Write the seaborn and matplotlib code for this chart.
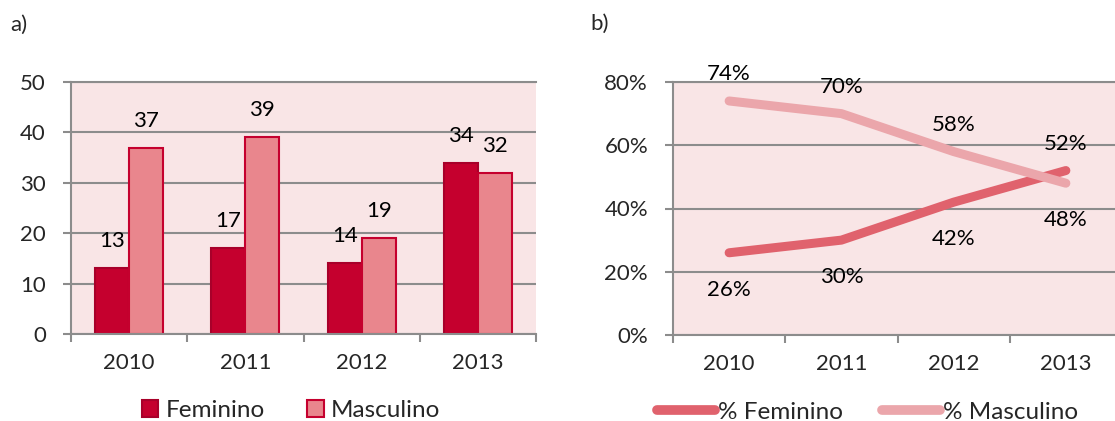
import matplotlib
matplotlib.use("Agg")
import matplotlib.pyplot as plt
import seaborn as sns
import pandas as pd
from matplotlib.patches import Patch
from matplotlib.lines import Line2D

years = ["2010", "2011", "2012", "2013"]
feminino = [13, 17, 14, 34]
masculino = [37, 39, 19, 32]
pct_feminino = [26, 30, 42, 52]
pct_masculino = [74, 70, 58, 48]
bar_series = ["Feminino", "Masculino"]
line_series = ["% Feminino", "% Masculino"]
bar_yticks = [0, 10, 20, 30, 40, 50]
line_yticks = [0, 20, 40, 60, 80]

sns.set_theme(style="white")
plt.rcParams["font.family"] = ["Lato", "DejaVu Sans"]
FS = 16
LFS = 17.5

BG = "#F9E5E6"
GRID = "#8C8C8C"
C_FEM = "#C5002E"
C_FEM_EDGE = "#A8002A"
C_MAS = "#E9868D"
C_MAS_EDGE = "#C5002E"
L_FEM = "#E0626D"
L_MAS = "#EBA6AB"

W, H = 1115, 421
fig = plt.figure(figsize=(W / 100, H / 100), dpi=100)

def rect(x0, x1, ytop, ybot):
    return [x0 / W, (H - ybot) / H, (x1 - x0) / W, (ybot - ytop) / H]

ax1 = fig.add_axes(rect(71, 536, 82, 334))
ax2 = fig.add_axes(rect(673, 1122, 82, 335))

def style_axes(ax, yticks):
    ax.set_facecolor(BG)
    ax.spines["right"].set_visible(False)
    for s in ["left", "bottom", "top"]:
        ax.spines[s].set_color(GRID)
        ax.spines[s].set_linewidth(1.5)
    ax.set_yticks(yticks)
    ax.yaxis.grid(True, color=GRID, lw=1.5)
    ax.set_axisbelow(True)
    ax.tick_params(axis="y", which="major", direction="out", length=6, width=1.5,
                   color=GRID, pad=12, labelsize=FS, left=True)
    ax.set_xlim(-0.5, 3.5)
    ax.set_xticks([0, 1, 2, 3])
    ax.set_xticklabels(years)
    ax.set_xticks([-0.5, 0.5, 1.5, 2.5, 3.5], minor=True)
    ax.tick_params(axis="x", which="major", length=0, pad=14, labelsize=FS)
    ax.tick_params(axis="x", which="minor", direction="out", length=6, width=1.5,
                   color=GRID, bottom=True)
    ax.set_xlabel("")
    ax.set_ylabel("")

# ---- a) bar chart ----
df_bar = pd.DataFrame({
    "Ano": years * 2,
    "Valor": feminino + masculino,
    "Sexo": [bar_series[0]] * 4 + [bar_series[1]] * 4,
})
sns.barplot(data=df_bar, x="Ano", y="Valor", hue="Sexo", ax=ax1,
            palette=[C_FEM, C_MAS], width=0.585, gap=0, legend=False,
            saturation=1, errorbar=None)
edges = [C_FEM_EDGE, C_MAS_EDGE]
for cont, ec in zip(ax1.containers, edges):
    for p in cont:
        p.set_edgecolor(ec)
        p.set_linewidth(1.5)
ax1.set_ylim(0, 50)
style_axes(ax1, bar_yticks)
for cont, vals in zip(ax1.containers, [feminino, masculino]):
    for p, v in zip(cont, vals):
        ax1.annotate(str(v), (p.get_x() + p.get_width() / 2, p.get_height()),
                     xytext=(0, 27), textcoords="offset pixels",
                     ha="center", va="center", fontsize=FS, color="black")

ax1.legend(handles=[Patch(facecolor=C_FEM, edgecolor=C_FEM_EDGE, lw=1.5),
                    Patch(facecolor=C_MAS, edgecolor=C_MAS_EDGE, lw=1.5)],
           labels=bar_series, loc="center", bbox_to_anchor=(0.473, -0.305),
           ncol=2, frameon=False, fontsize=LFS, handlelength=0.68,
           handleheight=0.68, handletextpad=0.3, columnspacing=1.75)

# ---- b) line chart ----
df_line = pd.DataFrame({
    "x": list(range(4)) * 2,
    "Pct": pct_feminino + pct_masculino,
    "Serie": [line_series[0]] * 4 + [line_series[1]] * 4,
})
sns.lineplot(data=df_line, x="x", y="Pct", hue="Serie", ax=ax2,
             palette=[L_FEM, L_MAS], linewidth=6.5, legend=False,
             solid_capstyle="round", solid_joinstyle="round")
ax2.set_ylim(0, 80)
style_axes(ax2, line_yticks)
ax2.set_yticklabels([f"{t}%" for t in line_yticks])
for i in range(4):
    f, m = pct_feminino[i], pct_masculino[i]
    hi, lo = max(f, m), min(f, m)
    ax2.annotate(f"{hi}%", (i, hi), xytext=(0, 27), textcoords="offset pixels",
                 ha="center", va="center", fontsize=FS, color="black",
                 annotation_clip=False)
    ax2.annotate(f"{lo}%", (i, lo), xytext=(0, -37), textcoords="offset pixels",
                 ha="center", va="center", fontsize=FS, color="black",
                 annotation_clip=False)

ax2.legend(handles=[Line2D([], [], color=L_FEM, lw=7, solid_capstyle="round"),
                    Line2D([], [], color=L_MAS, lw=7, solid_capstyle="round")],
           labels=line_series, loc="center", bbox_to_anchor=(0.433, -0.305),
           ncol=2, frameon=False, fontsize=LFS, handlelength=2.4,
           handletextpad=0.1, columnspacing=1.6)

fig.text(10 / W, 1 - 25 / H, "a)", fontsize=FS, ha="left", va="center")
fig.text(590 / W, 1 - 24 / H, "b)", fontsize=FS, ha="left", va="center")

fig.savefig("out.png", dpi=100)
